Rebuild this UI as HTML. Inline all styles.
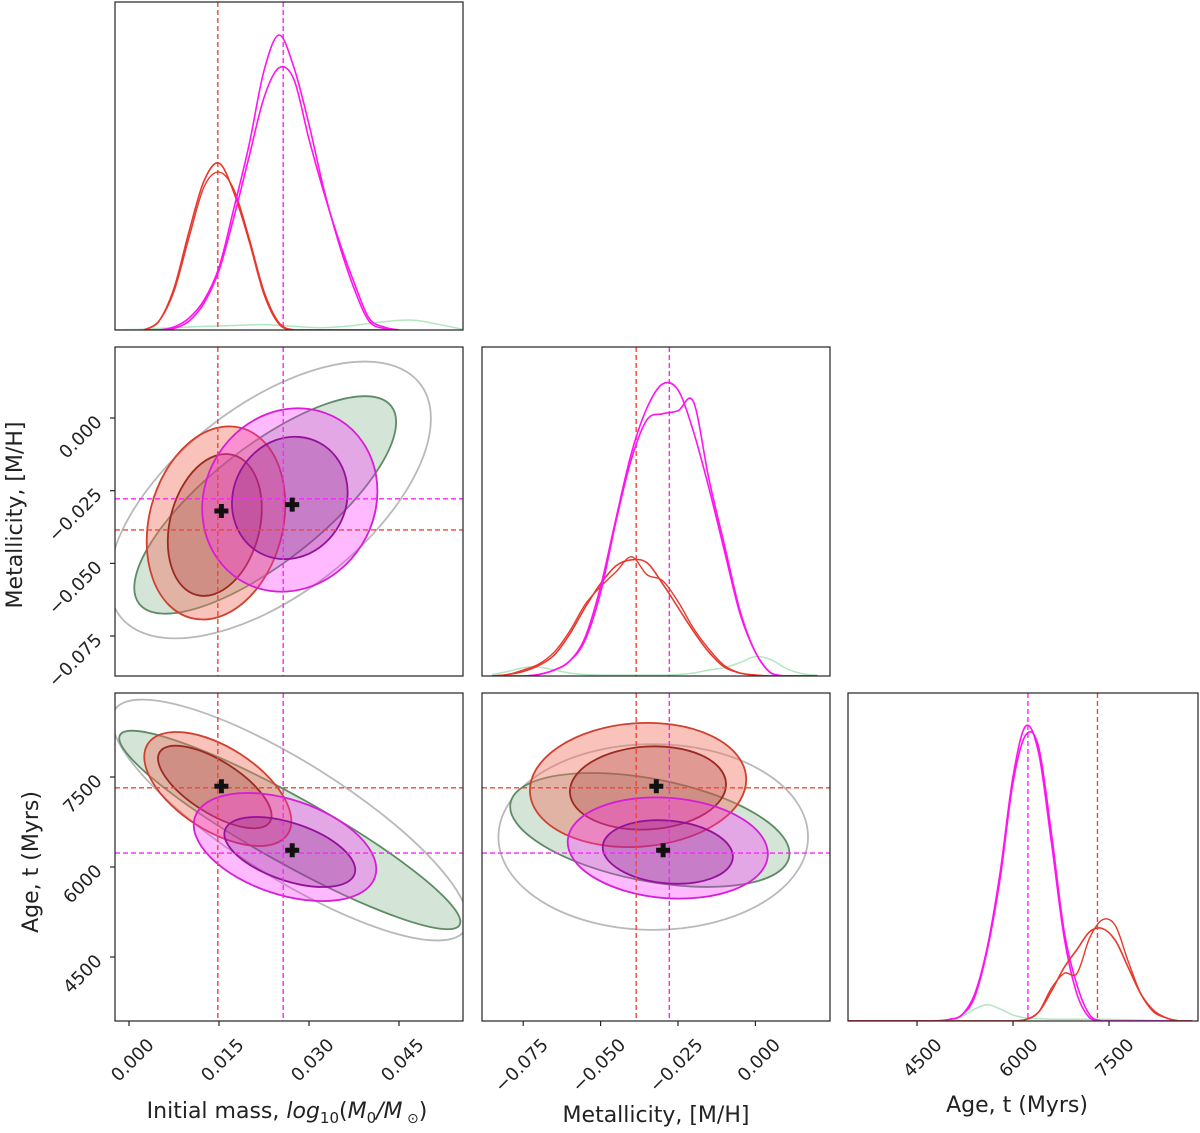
<!DOCTYPE html>
<html><head><meta charset="utf-8">
<style>
html,body{margin:0;padding:0;background:#fff;}
svg{display:block;font-family:"DejaVu Sans","Liberation Sans",sans-serif;}
</style></head>
<body>
<svg id="fig" width="1200" height="1133" viewBox="0 0 1200 1133" xmlns="http://www.w3.org/2000/svg"></svg>
<script>
// ---------- data ----------
const refMass = [0.0148, 0.0257];      // red, magenta
const refMet  = [-0.0385, -0.0278];
const refAge  = [7320, 6233];
const markMass = [0.0154, 0.0272];
const markMet  = [-0.032, -0.0298];
const markAge  = [7345, 6280];

const massGrid = [0.0025,0.005,0.0075,0.010,0.0125,0.015,0.0175,0.020,0.0225,0.025,0.0275,0.030,0.0325,0.035,0.0375,0.040,0.0425,0.045];
const massMagA = [0,0,1,4,10,21,41,62,87,99,88,69,47,29,14,3,0.5,0];
const massMagB = [0,0,0.5,3,9,20,38,58,78,88,84,64,46,30,16,4,1,0];
const massRedA = [0,3,14,33,50,56,46,30,12,2,0,0,0,0,0,0,0,0];
const massRedB = [0,3,13,31,48,53,47,31,13,2.5,0,0,0,0,0,0,0,0];
const massGreenGrid = [-0.0025,0.0025,0.0075,0.0125,0.0175,0.0225,0.0275,0.0325,0.0375,0.0425,0.0475,0.0525,0.0555];
const massGreen = [0,0.3,0.8,1.2,1.5,1.8,1.2,0.8,1.5,2.8,3.3,1.5,0.3];

const metGrid = [-0.085,-0.080,-0.075,-0.070,-0.065,-0.060,-0.055,-0.050,-0.045,-0.040,-0.035,-0.030,-0.025,-0.020,-0.015,-0.010,-0.005,0.000,0.005,0.010,0.015,0.020];
const metMagA = [0,0,0,0.5,2,5,13,30,53,75,90,98,96,82,63,42,21,8,1,0,0,0];
const metMagB = [0,0,0,0.5,2,5,12,28,52,73,86,88,89,92,66,44,22,8,1,0,0,0];
const metRedA = [0,0.5,1.5,3.5,7,14,23,31,37,39,38,31,23,15,8,3,1,0.3,0,0,0,0];
const metRedB = [0,0.5,2,4,8,15,24,30,35,40,34,32,25,16,9,3.5,1,0.3,0,0,0,0];
const metGreen = [0.5,1.5,2.8,3,2,1,0.5,0.3,0.3,0.3,0.3,0.3,0.5,1,2,2.8,4.5,6.5,5.5,2.5,0.8,0.2];

const ageGrid = [3400,3800,4200,4600,4800,5000,5200,5400,5600,5800,6000,6200,6400,6600,6800,7000,7200,7400,7600,7800,8000,8200,8400,8600,8800];
const ageMagA = [0,0,0,0,0,0.5,2,9,25,50,82,99,90,60,28,9,1,0,0,0,0,0,0,0,0];
const ageMagB = [0,0,0,0,0,0.5,2,8,24,48,80,96,92,63,30,12,2,0,0,0,0,0,0,0,0];
const ageRedA = [0,0,0,0,0,0,0,0,0,0,0,0.5,3,10,18,24,30,31,27,18,9,3.5,1,0,0];
const ageRedB = [0,0,0,0,0,0,0,0,0,0,0,0.5,3,11,16,16,28,34,32,20,9,3,1,0,0];
const ageGreen = [0,0,0,0,0.2,0.5,1.5,4,5.5,4,2,1,0.8,0.6,0.6,0.6,0.6,0.6,0.5,0.4,0.3,0.2,0.1,0,0];

// 2D contours (gray, green, red-outer, red-inner, magenta-outer, magenta-inner)
const mmCx = [0.0235,0.0227,0.0145,0.0143,0.0268,0.0268];
const mmCy = [-0.0282,-0.0299,-0.0361,-0.0368,-0.0282,-0.0275];
const mmUx = [0.025,0.021,0.00417,0.003,0.00833,0.005];
const mmUy = [0.040,0.034,0.0327,0.0241,0.0275,0.0189];
const mmRatio = [0.5,0.36,0.68,0.62,0.9,0.9];
const maCx = [0.0268,0.0268,0.0148,0.0143,0.026,0.0268];
const maCy = [6783,6617,7300,7333,6333,6250];
const maUx = [0.0292,0.0283,0.01167,0.00917,0.015,0.0108];
const maUy = [-1833,-1583,-750,-583,-500,-367];
const maRatio = [0.28,0.17,0.5,0.4,0.5,0.42];
const taCx = [-0.0330,-0.0341,-0.0379,-0.0347,-0.0283,-0.0283];
const taCy = [6500,6617,7367,7317,6317,6250];
const taUx = [0.050,0.045,0.0349,0.0252,0.0323,0.021];
const taUy = [0,-450,133,83,-133,-100];
const taRatio = [0.6,0.36,0.57,0.53,0.5,0.48];

const massTicks = [0.000,0.015,0.030,0.045];
const massTickLabels = ["0.000","0.015","0.030","0.045"];
const metTicks = [-0.075,-0.050,-0.025,0.000];
const metTickLabels = ["\u22120.075","\u22120.050","\u22120.025","0.000"];
const ageTicks = [4500,6000,7500];
const ageTickLabels = ["4500","6000","7500"];

// ---------- axes ----------
const xMass = v => 129 + 6000*v;
const xMet  = v => 755.4 + 3096*v;
const xAge  = v => 917 + 0.064*(v-4500);
const yMet  = v => 418 - 2907*v;
const yAge  = v => 867 - 0.06*(v-6000);
const panels = {
  p11:{x:115,y:2,w:348,h:328}, p21:{x:115,y:347,w:348,h:329}, p22:{x:482,y:347,w:348,h:329},
  p31:{x:115,y:693,w:348,h:328}, p32:{x:482,y:693,w:348,h:328}, p33:{x:848,y:693,w:350,h:328}
};
const diagY = (base,v) => base - 2.98*v;

const NS="http://www.w3.org/2000/svg";
const svg=document.getElementById('fig');
function mk(tag,attrs,parent){const e=document.createElementNS(NS,tag);for(const k in attrs)e.setAttribute(k,attrs[k]);(parent||svg).appendChild(e);return e;}

const defs=mk('defs',{});
for(const k in panels){const p=panels[k];const cp=mk('clipPath',{id:'clip-'+k},defs);mk('rect',{x:p.x,y:p.y,width:p.w,height:p.h},cp);}

function group(k,name){const g=mk('g',{'clip-path':'url(#clip-'+k+')'});


return g;}

function curve(g,grid,vals,fx,base,color,w,name,op){
  const pts=grid.map((x,i)=>[fx(x),diagY(base,vals[i])]);
  let d='M'+pts[0][0].toFixed(1)+','+pts[0][1].toFixed(1);
  for(let i=0;i<pts.length-1;i++){
    const p0=pts[Math.max(0,i-1)],p1=pts[i],p2=pts[i+1],p3=pts[Math.min(pts.length-1,i+2)];
    const c1=[p1[0]+(p2[0]-p0[0])/6,p1[1]+(p2[1]-p0[1])/6];
    const c2=[p2[0]-(p3[0]-p1[0])/6,p2[1]-(p3[1]-p1[1])/6];
    d+=`C${c1[0].toFixed(1)},${Math.min(base,c1[1]).toFixed(1)} ${c2[0].toFixed(1)},${Math.min(base,c2[1]).toFixed(1)} ${p2[0].toFixed(1)},${p2[1].toFixed(1)}`;
  }
  const p=mk('path',{d:d,fill:'none',stroke:color,'stroke-width':w,'stroke-linejoin':'round',opacity:op||1},g);
  
  
}
const contourFill=['none','#d4e4d7','rgba(242,120,105,0.45)','rgba(170,60,55,0.30)','rgba(255,40,255,0.32)','rgba(140,30,140,0.30)'];
const contourStroke=['#b9b9b9','#5e8b66','#d0402f','#9a2a22','#d81cd8','#94129a'];
const contourNames=['gray-contour','green-contour','red-outer-contour','red-inner-contour','magenta-outer-contour','magenta-inner-contour'];
function contours(g,cx,cy,ux,uy,ratio,fx,fy){
  for(let i=0;i<cx.length;i++){
    const px=fx(cx[i]),py=fy(cy[i]);
    const ex=fx(cx[i]+ux[i])-px, ey=fy(cy[i]+uy[i])-py;
    const a=Math.hypot(ex,ey), ang=Math.atan2(ey,ex)*180/Math.PI;
    const e=mk('ellipse',{cx:px,cy:py,rx:a,ry:a*ratio[i],transform:`rotate(${ang} ${px} ${py})`,fill:contourFill[i],stroke:contourStroke[i],'stroke-width':1.8},g);
    
    
  }
}
function vline(g,x,p,color,name){const l=mk('line',{x1:x,x2:x,y1:p.y,y2:p.y+p.h,stroke:color,'stroke-width':1.4,'stroke-dasharray':'5,3'},g);

}
function hline(g,y,p,color,name){const l=mk('line',{x1:p.x,x2:p.x+p.w,y1:y,y2:y,stroke:color,'stroke-width':1.4,'stroke-dasharray':'5,3'},g);

}
function cross(g,x,y,name){const c=mk('path',{d:`M${x-7},${y}H${x+7}M${x},${y-7}V${y+7}`,stroke:'#111','stroke-width':5},g);

}
const RED='#f0463a', MAG='#ff22ff';

{const p=panels.p11,g=group('p11','mass-marginal'),b=p.y+p.h;
curve(g,massGreenGrid,massGreen,xMass,b,'#9fe0b0',1.5,'mass-green-line',0.8);
vline(g,xMass(refMass[0]),p,RED,'mass-ref-red');vline(g,xMass(refMass[1]),p,MAG,'mass-ref-magenta');
curve(g,massGrid,massRedA,xMass,b,'#e8382c',1.6,'mass-red-line-a');curve(g,massGrid,massRedB,xMass,b,'#e8382c',1.4,'mass-red-line-b');
curve(g,massGrid,massMagA,xMass,b,'#ff14f0',1.6,'mass-magenta-line-a');curve(g,massGrid,massMagB,xMass,b,'#ff14f0',1.6,'mass-magenta-line-b');}
{const p=panels.p22,g=group('p22','metallicity-marginal'),b=p.y+p.h;
curve(g,metGrid,metGreen,xMet,b,'#9fe0b0',1.5,'met-green-line',0.8);
vline(g,xMet(refMet[0]),p,RED,'met-ref-red');vline(g,xMet(refMet[1]),p,MAG,'met-ref-magenta');
curve(g,metGrid,metRedA,xMet,b,'#e8382c',1.6,'met-red-line-a');curve(g,metGrid,metRedB,xMet,b,'#e8382c',1.4,'met-red-line-b');
curve(g,metGrid,metMagA,xMet,b,'#ff14f0',1.6,'met-magenta-line-a');curve(g,metGrid,metMagB,xMet,b,'#ff14f0',1.6,'met-magenta-line-b');}
{const p=panels.p33,g=group('p33','age-marginal'),b=p.y+p.h;
curve(g,ageGrid,ageGreen,xAge,b,'#9fe0b0',1.5,'age-green-line',0.8);
vline(g,xAge(refAge[1]),p,MAG,'age-ref-magenta');vline(g,xAge(refAge[0]),p,RED,'age-ref-red');
curve(g,ageGrid,ageMagA,xAge,b,'#ff14f0',1.6,'age-magenta-line-a');curve(g,ageGrid,ageMagB,xAge,b,'#ff14f0',1.6,'age-magenta-line-b');
curve(g,ageGrid,ageRedA,xAge,b,'#e8382c',1.6,'age-red-line-a');curve(g,ageGrid,ageRedB,xAge,b,'#e8382c',1.4,'age-red-line-b');}
{const p=panels.p21,g=group('p21','mass-metallicity-panel');
contours(g,mmCx,mmCy,mmUx,mmUy,mmRatio,xMass,yMet);
vline(g,xMass(refMass[0]),p,RED,'ref-red-v');vline(g,xMass(refMass[1]),p,MAG,'ref-magenta-v');
hline(g,yMet(refMet[0]),p,RED,'ref-red-h');hline(g,yMet(refMet[1]),p,MAG,'ref-magenta-h');
for(let i=0;i<2;i++)cross(g,xMass(markMass[i]),yMet(markMet[i]),'best-fit-marker');}
{const p=panels.p31,g=group('p31','mass-age-panel');
contours(g,maCx,maCy,maUx,maUy,maRatio,xMass,yAge);
vline(g,xMass(refMass[0]),p,RED,'ref-red-v');vline(g,xMass(refMass[1]),p,MAG,'ref-magenta-v');
hline(g,yAge(refAge[0]),p,RED,'ref-red-h');hline(g,yAge(refAge[1]),p,MAG,'ref-magenta-h');
for(let i=0;i<2;i++)cross(g,xMass(markMass[i]),yAge(markAge[i]),'best-fit-marker');}
{const p=panels.p32,g=group('p32','metallicity-age-panel');
contours(g,taCx,taCy,taUx,taUy,taRatio,xMet,yAge);
vline(g,xMet(refMet[0]),p,RED,'ref-red-v');vline(g,xMet(refMet[1]),p,MAG,'ref-magenta-v');
hline(g,yAge(refAge[0]),p,RED,'ref-red-h');hline(g,yAge(refAge[1]),p,MAG,'ref-magenta-h');
for(let i=0;i<2;i++)cross(g,xMet(markMet[i]),yAge(markAge[i]),'best-fit-marker');}

for(const k in panels){const p=panels[k];const r=mk('rect',{x:p.x,y:p.y,width:p.w,height:p.h,fill:'none',stroke:'#222','stroke-width':1.2});

}

function xticks(vals,labels,fx,p,name){
  const b=p.y+p.h;
  vals.forEach((v,i)=>{const x=fx(v);
    mk('line',{x1:x,x2:x,y1:b,y2:b+5,stroke:'#222','stroke-width':1.2});
    const t=mk('text',{x:x+26,y:b+25,'text-anchor':'end','font-size':18,fill:'#222',transform:`rotate(-45 ${x+26} ${b+25})`});
    t.textContent=labels[i];
    
    });
}
function yticks(vals,labels,fy,p,name){
  vals.forEach((v,i)=>{const y=fy(v);
    mk('line',{x1:p.x-5,x2:p.x,y1:y,y2:y,stroke:'#222','stroke-width':1.2});
    const t=mk('text',{x:p.x-12,y:y+5,'text-anchor':'end','font-size':18,fill:'#222',transform:`rotate(-45 ${p.x-12} ${y+5})`});
    t.textContent=labels[i];
    
    });
}
xticks(massTicks,massTickLabels,xMass,panels.p31,'mass-x');
xticks(metTicks,metTickLabels,xMet,panels.p32,'met-x');
xticks(ageTicks,ageTickLabels,xAge,panels.p33,'age-x');
yticks(metTicks,metTickLabels,yMet,panels.p21,'met-y');
yticks(ageTicks,ageTickLabels,yAge,panels.p31,'age-y');

function title(x,y,txt,name,rot){const e=mk('text',{x:x,y:y,'text-anchor':'middle','font-size':22,fill:'#222'});if(rot)e.setAttribute('transform',`rotate(-90 ${x} ${y})`);e.textContent=txt;


return e;}
title(22,515,'Metallicity, [M/H]','y-axis-title-metallicity',true);
title(38,862,'Age, t (Myrs)','y-axis-title-age',true);
title(656,1122,'Metallicity, [M/H]','x-axis-title-metallicity');
title(1017,1112,'Age, t (Myrs)','x-axis-title-age');
const m=title(287,1118,'','x-axis-title-mass');
m.innerHTML='Initial mass, <tspan font-style="italic">log</tspan><tspan font-size="15" dy="5">10</tspan><tspan dy="-5">(</tspan><tspan font-style="italic">M</tspan><tspan font-size="15" dy="5">0</tspan><tspan dy="-5" font-style="italic">/M</tspan><tspan font-size="14" dy="5"> \u2299</tspan><tspan dy="-5">)</tspan>';
</script>
</body></html>
